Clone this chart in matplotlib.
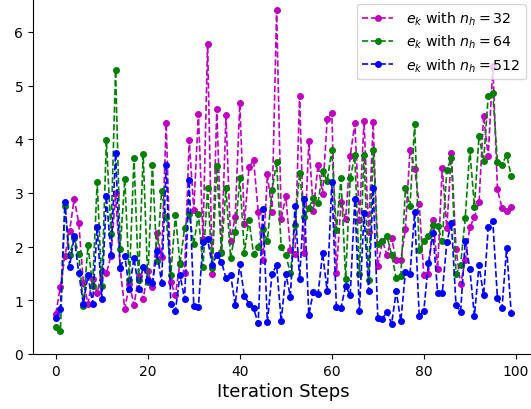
import matplotlib
matplotlib.use("Agg")
import matplotlib.pyplot as plt
import numpy as np

steps = list(range(100))

e_32 = [0.75, 1.25, 1.83, 2.29, 2.89, 2.44, 1.33, 0.94, 1.40, 1.14,
        1.55, 1.50, 1.83, 3.00, 1.60, 0.84, 1.30, 0.91, 1.45, 1.02,
        1.55, 1.24, 2.25, 1.80, 4.30, 1.35, 1.09, 1.70, 1.51, 3.99,
        2.68, 4.48, 2.15, 5.78, 1.49, 4.57, 1.90, 4.45, 2.11, 2.55,
        4.67, 2.43, 3.48, 3.61, 2.65, 1.75, 3.35, 2.64, 6.41, 2.52,
        2.94, 1.94, 1.86, 4.81, 1.89, 3.96, 2.66, 3.53, 2.99, 4.38,
        4.49, 1.51, 2.83, 2.52, 3.68, 4.30, 2.50, 4.35, 2.27, 4.32,
        1.64, 2.10, 1.85, 2.16, 1.75, 1.75, 2.33, 3.81, 3.45, 2.79,
        1.47, 1.49, 2.50, 1.58, 3.46, 2.35, 3.75, 1.96, 1.30, 1.75,
        2.36, 2.55, 2.83, 4.44, 3.68, 5.37, 3.07, 2.72, 2.67, 2.73]

e_64 = [0.50, 0.43, 2.76, 1.84, 2.16, 1.86, 0.90, 2.03, 1.27, 3.20,
        1.27, 3.98, 2.24, 5.29, 1.96, 3.26, 1.37, 3.66, 1.37, 3.72,
        1.34, 3.52, 1.74, 3.04, 2.55, 1.48, 2.59, 1.68, 2.35, 2.60,
        2.05, 2.60, 1.62, 3.09, 1.60, 3.50, 1.89, 3.09, 1.78, 2.27,
        3.27, 1.89, 2.50, 1.86, 1.99, 2.32, 2.11, 3.05, 3.57, 1.99,
        1.85, 1.50, 2.41, 3.37, 2.55, 2.72, 2.91, 2.81, 3.41, 3.23,
        3.80, 2.31, 3.27, 1.40, 3.28, 3.70, 1.49, 3.71, 1.38, 3.81,
        2.05, 2.10, 2.19, 1.85, 1.41, 1.45, 3.09, 2.76, 4.29, 1.94,
        2.10, 2.19, 2.41, 2.39, 2.10, 3.42, 3.66, 1.49, 1.66, 2.53,
        3.81, 2.74, 4.07, 3.59, 4.81, 4.86, 3.57, 3.53, 3.71, 3.32]

e_512 = [0.67, 0.84, 2.83, 1.63, 2.19, 1.51, 0.93, 1.47, 0.94, 2.37,
         1.03, 2.94, 1.85, 3.74, 1.60, 1.83, 1.21, 1.79, 1.22, 1.63,
         1.38, 1.32, 1.91, 1.33, 3.52, 0.94, 0.80, 1.48, 1.02, 3.24,
         0.90, 0.88, 2.08, 2.14, 1.66, 1.85, 1.72, 1.42, 1.48, 0.92,
         1.67, 1.08, 0.94, 0.85, 0.57, 2.70, 0.60, 1.49, 1.66, 0.61,
         1.49, 1.07, 2.76, 1.40, 2.89, 0.73, 1.16, 1.11, 1.88, 1.17,
         3.20, 0.87, 0.86, 1.27, 1.09, 2.88, 0.80, 2.62, 1.18, 3.09,
         0.67, 0.66, 0.79, 0.56, 1.17, 0.61, 1.53, 1.49, 2.64, 0.71,
         0.81, 1.69, 2.25, 1.14, 1.13, 2.08, 2.45, 0.91, 0.79, 2.11,
         1.58, 0.71, 1.65, 1.09, 2.36, 2.47, 1.04, 0.86, 1.97, 0.76]

labels = [r"$e_k$ with $n_h = 32$", r"$e_k$ with $n_h = 64$", r"$e_k$ with $n_h = 512$"]
colors = ["m", "g", "b"]

W, H = 531, 410
fig = plt.figure(figsize=(W / 100, H / 100), dpi=100)
left_px, right_px, bottom_px = 33, 534, 355
ymax = 6.72
top_px = bottom_px - ymax * 53.67
ax = fig.add_axes([left_px / W, (H - bottom_px) / H,
                   (right_px - left_px) / W, (bottom_px - top_px) / H])

for series, lab, col in zip([e_32, e_64, e_512], labels, colors):
    ax.plot(steps, series, linestyle="--", marker="o", color=col,
            markersize=4, linewidth=1.2, label=lab)

ax.set_xlim(-4.95, 103.95)
ax.set_ylim(0, ymax)
ax.set_xticks([0, 20, 40, 60, 80, 100])
ax.set_yticks([0, 1, 2, 3, 4, 5, 6])
ax.tick_params(labelsize=10)
ax.set_xlabel("Iteration Steps", fontsize=13, labelpad=3)

ax.legend(loc="upper right", bbox_to_anchor=(526 / W, 1 - 5 / H),
          bbox_transform=fig.transFigure, borderaxespad=0, fontsize=10.2,
          labelspacing=0.42, handlelength=2.2, handletextpad=0.9)

fig.savefig("out.png", dpi=100)
